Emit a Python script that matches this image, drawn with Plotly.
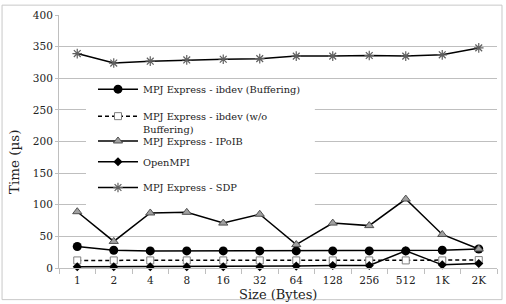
import plotly.graph_objects as go

sizes = ["1", "2", "4", "8", "16", "32", "64", "128", "256", "512", "1K", "2K"]
ibdev_buffering = [34, 28, 27, 27, 27, 27, 27, 27, 27, 27, 28, 30]
ibdev_no_buffering = [12, 12, 12, 12, 12, 12, 12, 12, 12, 12, 12, 12.5]
ipoib = [89, 42, 87, 88, 71, 85, 37, 71, 67, 109, 53, 30]
openmpi = [2, 2, 2, 2, 2, 2, 3, 4, 4, 27, 5, 7]
sdp = [339, 324, 327, 329, 330, 331, 335, 335, 336, 335, 337, 348]

FONT = "DejaVu Serif"
LFONT = "DejaVu Serif"
GRID = "#bfbfbf"
TXT = "#222222"

fig = go.Figure()

# white legend backdrop (hides gridlines behind the legend, below the lines)
fig.add_trace(go.Bar(
    x=[sizes[0]], y=[214], base=[82], offset=0.24, width=6.27,
    marker=dict(color="white", line=dict(width=0)),
    showlegend=False, hoverinfo="skip"))

fig.add_trace(go.Scatter(
    x=sizes, y=ibdev_buffering, mode="lines+markers",
    name="MPJ Express - ibdev (Buffering)", legend="legend",
    line=dict(color="black", width=1.5),
    marker=dict(symbol="circle", size=9, color="black"),
    cliponaxis=False))
fig.add_trace(go.Scatter(
    x=sizes, y=ibdev_no_buffering, mode="lines+markers",
    name="MPJ Express - ibdev (w/o<br>Buffering)", legend="legend2",
    line=dict(color="black", width=1.5, dash="4px,3px"),
    marker=dict(symbol="square", size=7, color="white",
                line=dict(color="#808080", width=1)),
    cliponaxis=False))
fig.add_trace(go.Scatter(
    x=sizes, y=ipoib, mode="lines+markers",
    name="MPJ Express - IPoIB", legend="legend3",
    line=dict(color="black", width=1.5),
    marker=dict(symbol="triangle-up", size=8, color="#a0a0a0",
                line=dict(color="#505050", width=1)),
    cliponaxis=False))
fig.add_trace(go.Scatter(
    x=sizes, y=openmpi, mode="lines+markers",
    name="OpenMPI", legend="legend4",
    line=dict(color="black", width=1.5),
    marker=dict(symbol="diamond", size=7, color="black"),
    cliponaxis=False))
fig.add_trace(go.Scatter(
    x=sizes, y=sdp, mode="lines+markers",
    name="MPJ Express - SDP", legend="legend5",
    line=dict(color="black", width=1.5),
    marker=dict(symbol="asterisk-open", size=8, color="#606060",
                line=dict(color="#606060", width=1.2)),
    cliponaxis=False))

leg_common = dict(x=0.0776, xanchor="left", yanchor="middle",
                  bgcolor="rgba(0,0,0,0)", borderwidth=0, itemwidth=40,
                  font=dict(family=LFONT, size=9.8, color=TXT))
fig.update_layout(
    showlegend=True,
    legend=dict(y=0.707, **leg_common),
    legend2=dict(y=0.574, valign="top", **leg_common),
    legend3=dict(y=0.502, **leg_common),
    legend4=dict(y=0.42, **leg_common),
    legend5=dict(y=0.318, **leg_common),
)

fig.update_layout(
    width=506, height=304,
    margin=dict(l=59, r=9, t=12, b=36),
    paper_bgcolor="white", plot_bgcolor="white",
    font=dict(family=FONT, size=10.5, color=TXT),
    xaxis=dict(type="category", tickson="boundaries", ticks="outside",
               ticklen=5, tickcolor=GRID, showline=True, linecolor=GRID,
               showgrid=False, range=[-0.5, 11.5], zeroline=False,
               ticklabelstandoff=2,
               tickfont=dict(family=FONT, size=10.5, color=TXT)),
    yaxis=dict(range=[0, 400], dtick=50, showgrid=True, gridcolor=GRID,
               showline=True, linecolor=GRID, ticks="outside", ticklen=3,
               tickcolor=GRID, zeroline=False,
               tickfont=dict(family=FONT, size=10.5, color=TXT)),
    shapes=[
        dict(type="rect", xref="paper", yref="paper",
             x0=-0.130, x1=1.0114, y0=-0.125, y1=1.039,
             line=dict(color="#c8c8c8", width=1), fillcolor="rgba(0,0,0,0)",
             layer="below"),
    ],
    annotations=[
        dict(text="Time (µs)", xref="paper", yref="paper", x=-0.103, y=0.422,
             textangle=-90, showarrow=False, xanchor="center", yanchor="middle",
             font=dict(family=FONT, size=13.5, color=TXT)),
        dict(text="Size (Bytes)", xref="paper", yref="paper", x=0.5, y=-0.103,
             showarrow=False, xanchor="center", yanchor="middle",
             font=dict(family=FONT, size=13, color=TXT)),
    ],
)

fig.write_html("out.html")
